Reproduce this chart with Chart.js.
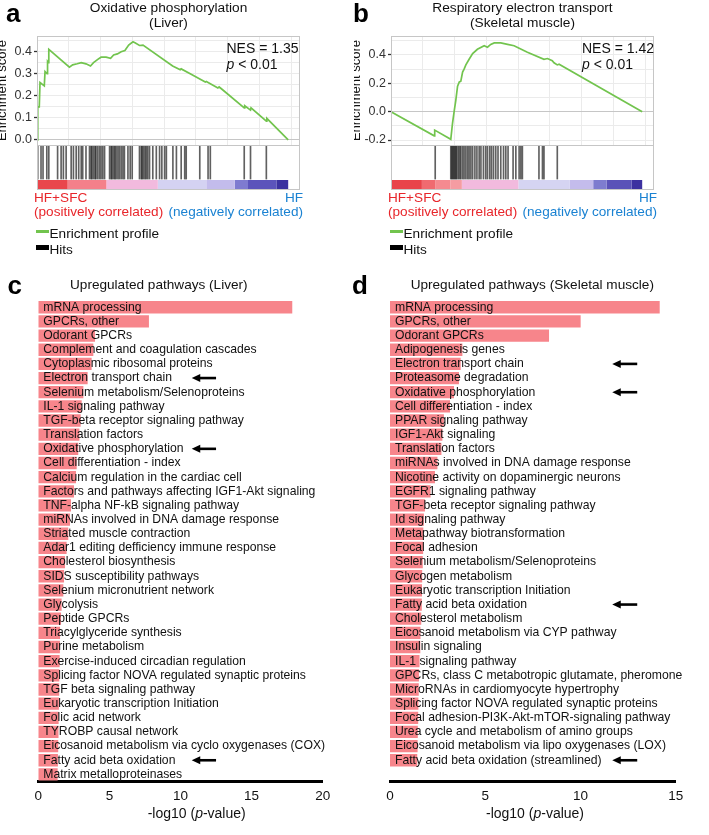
<!DOCTYPE html>
<html>
<head>
<meta charset="utf-8">
<script src="https://cdn.jsdelivr.net/npm/chart.js@4/dist/chart.umd.min.js"></script>
<style>
  body { margin: 0; background: #fff; }
  #page { position: relative; width: 709px; height: 835px; overflow: hidden; background: #fff;
          font-family: "Liberation Sans", Arial, Helvetica, sans-serif; color: #111; }
  .box { position: absolute; }
  .t { position: absolute; white-space: nowrap; }
  .letter { font-size: 26px; font-weight: bold; line-height: 26px; color: #000; }
  .ttl { font-size: 13.7px; line-height: 15px; text-align: center; width: 300px; }
  .nes { font-size: 14px; line-height: 16.5px; }
  .side { font-size: 13.6px; line-height: 14px; }
  .red { color: #e8262b; }
  .blue { color: #1a82d2; text-align: right; width: 200px; }
  .sw { position: absolute; }
  .axt { font-size: 14px; line-height: 14px; text-align: center; width: 200px; }
</style>
</head>
<body>
<div id="page">
  <div class="box" style="left:0;top:0;width:354px;height:200px"><canvas id="gseaLiver"></canvas></div>
  <div class="box" style="left:354px;top:0;width:354px;height:200px"><canvas id="gseaMuscle"></canvas></div>
  <div class="box" style="left:0;top:260px;width:354px;height:575px"><canvas id="pathLiver"></canvas></div>
  <div class="box" style="left:354px;top:260px;width:355px;height:575px"><canvas id="pathMuscle"></canvas></div>

  <div class="t letter" style="left:6px;top:0">a</div>
  <div class="t letter" style="left:353px;top:0">b</div>
  <div class="t letter" style="left:7.5px;top:271.5px">c</div>
  <div class="t letter" style="left:352px;top:272px">d</div>

  <div class="t ttl" style="left:18.5px;top:0">Oxidative phosphorylation<br>(Liver)</div>
  <div class="t ttl" style="left:372.5px;top:0">Respiratory electron transport<br>(Skeletal muscle)</div>

  <div class="t nes" style="left:226.5px;top:39.75px">NES = 1.35<br><i>p</i> &lt; 0.01</div>
  <div class="t nes" style="left:582px;top:39.75px">NES = 1.42<br><i>p</i> &lt; 0.01</div>

  <div class="t side red" style="left:34px;top:191.3px">HF+SFC<br>(positively correlated)</div>
  <div class="t side blue" style="left:103px;top:191.3px">HF<br>(negatively correlated)</div>
  <div class="t side red" style="left:388px;top:191.3px">HF+SFC<br>(positively correlated)</div>
  <div class="t side blue" style="left:457px;top:191.3px">HF<br>(negatively correlated)</div>

  <div class="sw" style="left:36px;top:229.7px;width:13px;height:3px;background:#72c44e"></div>
  <div class="t side" style="left:49.5px;top:226.7px">Enrichment profile</div>
  <div class="sw" style="left:36px;top:244.5px;width:13px;height:5px;background:#000"></div>
  <div class="t side" style="left:49.5px;top:242.7px">Hits</div>
  <div class="sw" style="left:390px;top:229.7px;width:13px;height:3px;background:#72c44e"></div>
  <div class="t side" style="left:403.5px;top:226.7px">Enrichment profile</div>
  <div class="sw" style="left:390px;top:244.5px;width:13px;height:5px;background:#000"></div>
  <div class="t side" style="left:403.5px;top:242.7px">Hits</div>

  <div class="t ttl" style="left:8.8px;top:276.7px;font-size:13.6px">Upregulated pathways (Liver)</div>
  <div class="t ttl" style="left:382.3px;top:276.7px;font-size:13.6px">Upregulated pathways (Skeletal muscle)</div>

  <div class="t axt" style="left:96.7px;top:805.5px">-log10 (<i>p</i>-value)</div>
  <div class="t axt" style="left:435px;top:805.5px">-log10 (<i>p</i>-value)</div>
</div>

<script>
// running enrichment score, [rank % of gene list, ES]
const esLiver = [[0,0],[0.3,0.15],[0.9,0.15],[1.2,0.26],[2.9,0.245],[3.2,0.31],[4.0,0.30],[4.2,0.355],[4.5,0.35],[4.7,0.41],
  [12.9,0.33],[14.2,0.34],[16.0,0.345],[17.6,0.35],[19.5,0.345],[21.3,0.335],[22.5,0.35],[24.2,0.365],[25.5,0.375],[27.5,0.375],
  [29.3,0.37],[30.5,0.385],[32.0,0.39],[33.5,0.40],[35.0,0.405],[36.5,0.43],[38.2,0.445],[39.0,0.44],[40.8,0.428],[42.2,0.43],
  [54.0,0.335],[57.0,0.318],[57.4,0.322],[61.0,0.30],[67.0,0.262],[67.4,0.265],[69.0,0.255],[72.0,0.235],[72.5,0.24],[73.4,0.232],
  [82.5,0.145],[82.7,0.155],[85.0,0.135],[85.2,0.145],[91.3,0.085],[91.5,0.098],[100,0]];
const esMuscle = [[0,0],[17.2,-0.17],[17.4,-0.13],[23.8,-0.195],[24.5,-0.08],[25.2,0.01],[25.8,0.08],[26.5,0.18],[27.2,0.21],
  [27.8,0.215],[28.5,0.28],[29.1,0.30],[29.8,0.33],[31.1,0.37],[32.5,0.41],[34.4,0.44],[37.1,0.465],[38.4,0.455],[39.7,0.475],
  [41.1,0.485],[43.7,0.485],[46.4,0.475],[49.0,0.465],[54.3,0.42],[60.9,0.37],[62.3,0.375],[64.2,0.36],[64.9,0.345],[66.2,0.33],
  [66.9,0.335],[100,0]];

// hit positions (rank %)
const hitsLiver = [0.3,1.6,2.4,3.9,4.7,8.2,9.6,10.5,11.6,13.6,14.5,15.6,16.6,17.6,18.2,19.5,20.9,21.5,21.9,22.5,23.1,23.5,
  24.2,24.9,25.5,26.2,26.9,28.9,29.5,29.9,30.5,31.0,31.5,32.2,32.8,33.5,34.2,34.8,36.2,37.1,37.9,40.8,41.5,41.9,42.4,43.0,
  43.5,44.1,44.8,46.1,47.5,48.8,49.7,50.8,51.5,54.1,55.5,57.4,58.8,59.4,64.8,68.1,69.0,82.5,85.0,91.3];
const hitsMuscle = [17.6,23.8,24.2,24.6,25.0,25.4,25.8,26.2,26.8,27.3,27.8,28.5,29.1,29.8,30.5,31.1,31.8,32.5,33.4,34.2,
  35.1,35.8,36.8,37.7,38.4,39.3,40.0,40.8,41.7,42.6,43.7,44.8,45.7,46.6,48.6,49.7,51.0,51.7,52.3,58.9,60.3,60.9,66.2];

// ranked list colour bar breaks (rank %)
const rankBreaksLiver = [0, 12.2, 27.6, 48.1, 67.4, 78.7, 84.0, 95.3, 100];
const rankBreaksMuscle = [0, 12.3, 17.6, 23.6, 28.2, 50.7, 71.2, 80.5, 85.8, 95.8, 100];
const rankColorsLiver = ['#e9464c','#f4808a','#f2bade','#d4d2f2','#c3bcec','#7e7bd0','#5b54bb','#3b32a0'];
const rankColorsMuscle = ['#e9434a','#f06a70','#f58a90','#f59ca2','#f2bade','#d5d4f2','#c4bcec','#7e7ccf','#5a52b8','#3c31a0'];

const liverPathways = ['mRNA processing','GPCRs, other','Odorant GPCRs','Complement and coagulation cascades',
  'Cytoplasmic ribosomal proteins','Electron transport chain','Selenium metabolism/Selenoproteins','IL-1 signaling pathway',
  'TGF-beta receptor signaling pathway','Translation factors','Oxidative phosphorylation','Cell differentiation - index',
  'Calcium regulation in the cardiac cell','Factors and pathways affecting IGF1-Akt signaling','TNF-alpha NF-kB signaling pathway',
  'miRNAs involved in DNA damage response','Striated muscle contraction','Adar1 editing defficiency immune response',
  'Cholesterol biosynthesis','SIDS susceptibility pathways','Selenium micronutrient network','Glycolysis','Peptide GPCRs',
  'Triacylglyceride synthesis','Purine metabolism','Exercise-induced circadian regulation',
  'Splicing factor NOVA regulated synaptic proteins','TGF beta signaling pathway','Eukaryotic transcription Initiation',
  'Folic acid network','TYROBP causal network','Eicosanoid metabolism via cyclo oxygenases (COX)','Fatty acid beta oxidation',
  'Matrix metalloproteinases'];
const liverLogP = [17.86,7.78,3.99,3.87,3.75,3.47,3.17,3.05,2.98,2.89,2.81,2.70,2.65,2.51,2.30,2.23,2.11,1.99,1.88,1.81,
  1.76,1.64,1.60,1.53,1.52,1.50,1.48,1.47,1.45,1.43,1.42,1.40,1.38,1.36];
const liverArrows = [5, 10, 32];

const musclePathways = ['mRNA processing','GPCRs, other','Odorant GPCRs','Adipogenesis genes','Electron transport chain',
  'Proteasome degradation','Oxidative phosphorylation','Cell differentiation - index','PPAR signaling pathway',
  'IGF1-Akt signaling','Translation factors','miRNAs involved in DNA damage response','Nicotine activity on dopaminergic neurons',
  'EGFR1 signaling pathway','TGF-beta receptor signaling pathway','Id signaling pathway','Metapathway biotransformation',
  'Focal adhesion','Selenium metabolism/Selenoproteins','Glycogen metabolism','Eukaryotic transcription Initiation',
  'Fatty acid beta oxidation','Cholesterol metabolism','Eicosanoid metabolism via CYP pathway','Insulin signaling',
  'IL-1 signaling pathway','GPCRs, class C metabotropic glutamate, pheromone','MicroRNAs in cardiomyocyte hypertrophy',
  'Splicing factor NOVA regulated synaptic proteins','Focal adhesion-PI3K-Akt-mTOR-signaling pathway',
  'Urea cycle and metabolism of amino groups','Eicosanoid metabolism via lipo oxygenases (LOX)',
  'Fatty acid beta oxidation (streamlined)'];
const muscleLogP = [14.16,10.01,8.35,3.80,3.71,3.62,3.36,3.15,2.83,2.75,2.70,2.49,2.36,2.13,1.84,1.78,1.75,1.74,1.72,
  1.69,1.68,1.67,1.64,1.60,1.59,1.55,1.52,1.51,1.49,1.48,1.46,1.45,1.43];
const muscleArrows = [4, 6, 21, 32];

Chart.defaults.font.family = '"Liberation Sans", Arial, Helvetica, sans-serif';
Chart.defaults.color = '#111';
Chart.defaults.animation = false;

// white background for the hits strip and grey frames round both panels
const gseaFrame = {
  id: 'gseaFrame',
  beforeDatasetsDraw(chart) {
    const { ctx, chartArea: a, scales: { yHits, yBar } } = chart;
    ctx.save();
    ctx.fillStyle = '#fff';
    ctx.fillRect(a.left, yHits.top, a.right - a.left, yBar.bottom - yHits.top);
    ctx.restore();
  },
  afterDatasetsDraw(chart) {
    const { ctx, chartArea: a, scales: { y, yHits, yBar } } = chart;
    ctx.save();
    ctx.strokeStyle = '#c6c6c6';
    ctx.lineWidth = 1;
    ctx.strokeRect(a.left + 0.5, y.top + 0.5, a.right - a.left - 1, y.bottom - y.top);
    ctx.strokeRect(a.left + 0.5, yHits.top + 0.5, a.right - a.left - 1, yBar.bottom - yHits.top - 1);
    ctx.restore();
  }
};

const arrowMarks = {
  id: 'arrowMarks',
  afterDatasetsDraw(chart, args, opts) {
    const { ctx, scales: { x, y } } = chart;
    ctx.save();
    ctx.fillStyle = '#000';
    ctx.strokeStyle = '#000';
    ctx.lineWidth = 2.6;
    opts.rows.forEach(r => {
      const py = y.getPixelForValue(r);
      const tail = x.getPixelForValue(opts.tail);
      const tip = x.getPixelForValue(opts.tip);
      ctx.beginPath();
      ctx.moveTo(tail, py);
      ctx.lineTo(tip + 6, py);
      ctx.stroke();
      ctx.beginPath();
      ctx.moveTo(tip, py);
      ctx.lineTo(tip + 8.5, py - 4);
      ctx.lineTo(tip + 8.5, py + 4);
      ctx.closePath();
      ctx.fill();
    });
    ctx.restore();
  }
};

function gseaChart(id, es, hits, breaks, colors, yMin, yMax, gridStep, labelStep) {
  const isLabel = v => Math.abs(v / labelStep - Math.round(v / labelStep)) < 1e-6;
  const datasets = [{
    type: 'line',
    data: es.map(p => ({ x: p[0], y: p[1] })),
    yAxisID: 'y',
    borderColor: '#72c44e',
    borderWidth: 1.7,
    pointRadius: 0,
    tension: 0
  }, {
    type: 'bar',
    data: hits.map(r => ({ x: r, y: 1 })),
    yAxisID: 'yHits',
    backgroundColor: 'rgba(0,0,0,0.62)',
    barThickness: 1
  }];
  breaks.slice(0, -1).forEach((b, i) => datasets.push({
    type: 'line',
    data: [{ x: b, y: 0.5 }, { x: breaks[i + 1], y: 0.5 }],
    yAxisID: 'yBar',
    borderColor: colors[i],
    borderWidth: 9.5,
    borderCapStyle: 'butt',
    pointRadius: 0
  }));

  const strip = (weight, order) => ({
    type: 'linear', position: 'left', stack: 'gsea', stackWeight: weight, weight: order,
    min: 0, max: 1,
    ticks: { display: false }, grid: { display: false }, border: { display: false },
    afterFit: s => { s.width = 37; }
  });

  return new Chart(document.getElementById(id), {
    type: 'bar',
    data: { datasets },
    plugins: [gseaFrame],
    options: {
      responsive: true,
      maintainAspectRatio: false,
      events: [],
      layout: { padding: { left: 0, right: 54, top: 36, bottom: 10 } },
      plugins: { legend: { display: false }, tooltip: { enabled: false } },
      scales: {
        x: {
          type: 'linear', min: 0, max: 104.7, offset: false,
          afterBuildTicks: s => {
            const t = [];
            for (let k = 0; k * 12.65 <= 104.7; k++) t.push({ value: k * 12.65 });
            s.ticks = t;
          },
          ticks: { display: false },
          grid: { color: '#ebebeb', drawTicks: false, offset: false },
          border: { display: false },
          afterFit: s => { s.height = 0; }
        },
        y: {
          type: 'linear', position: 'left', stack: 'gsea', stackWeight: 109, weight: 3,
          min: yMin, max: yMax,
          afterBuildTicks: s => {
            const t = [];
            for (let k = Math.ceil(yMin / gridStep - 1e-9); k * gridStep <= yMax + 1e-9; k++) {
              t.push({ value: +(k * gridStep).toFixed(4) });
            }
            s.ticks = t;
          },
          ticks: {
            autoSkip: false, padding: 2, color: '#333', font: { size: 12.5 },
            callback: v => isLabel(v) ? v.toFixed(1) : ''
          },
          grid: {
            color: c => Math.abs(c.tick.value) < 1e-9 ? '#c6c6c6' : '#ebebeb',
            tickLength: 3,
            tickWidth: 1.3,
            tickColor: c => isLabel(c.tick.value) ? '#333' : 'rgba(0,0,0,0)'
          },
          border: { display: false },
          title: { display: true, text: 'Enrichment score', color: '#111', font: { size: 13 }, padding: { top: -5, bottom: 0 } },
          afterFit: s => { s.width = 37; }
        },
        yHits: strip(34.5, 2),
        yBar: strip(10.5, 1)
      }
    }
  });
}

function pathwayChart(id, labels, values, xMax, arrowRows, tail, tip, padLeft, padRight) {
  return new Chart(document.getElementById(id), {
    type: 'bar',
    data: {
      datasets: [{
        data: values.map((v, i) => ({ x: v, y: i })),
        backgroundColor: '#f7858b',
        categoryPercentage: 1,
        barPercentage: 0.87
      }]
    },
    plugins: [arrowMarks],
    options: {
      indexAxis: 'y',
      responsive: true,
      maintainAspectRatio: false,
      events: [],
      layout: { padding: { left: padLeft, right: padRight, top: 40.2, bottom: 29.5 } },
      plugins: {
        legend: { display: false },
        tooltip: { enabled: false },
        arrowMarks: { rows: arrowRows, tail: tail, tip: tip }
      },
      scales: {
        x: {
          type: 'linear', position: 'bottom', min: 0, max: xMax,
          ticks: { stepSize: 5, padding: 7, color: '#111', font: { size: 13.5 } },
          grid: { display: false, drawTicks: false },
          border: { display: true, color: '#000', width: 3 },
          afterFit: s => { s.height = 24; }
        },
        y: {
          type: 'linear', position: 'left', min: -0.5, max: 33.5, reverse: true, offset: false,
          afterBuildTicks: s => { s.ticks = labels.map((_, i) => ({ value: i })); },
          ticks: {
            mirror: true, padding: 5, z: 1, autoSkip: false, color: '#111', font: { size: 12.2 },
            callback: v => labels[v]
          },
          grid: { display: false, drawTicks: false, offset: false },
          border: { display: false },
          afterFit: s => { s.width = 0; }
        }
      }
    }
  });
}

gseaChart('gseaLiver', esLiver, hitsLiver, rankBreaksLiver, rankColorsLiver, -0.023, 0.471, 0.05, 0.1);
gseaChart('gseaMuscle', esMuscle, hitsMuscle, rankBreaksMuscle, rankColorsMuscle, -0.235, 0.534, 0.1, 0.2);
pathwayChart('pathLiver', liverPathways, liverLogP, 20, liverArrows, 12.5, 10.79, 38.3, 31.3);
pathwayChart('pathMuscle', musclePathways, muscleLogP, 15, muscleArrows, 12.98, 11.67, 36, 33.3);
</script>
</body>
</html>
